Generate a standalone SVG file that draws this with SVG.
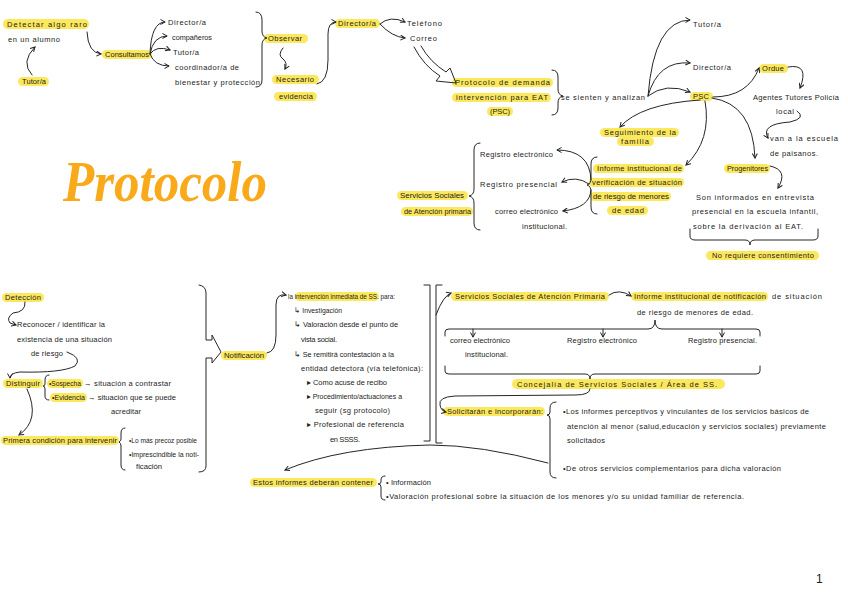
<svg xmlns="http://www.w3.org/2000/svg" width="848" height="599" viewBox="0 0 848 599">
<defs>
<marker id="ah" viewBox="0 0 6 6" refX="5" refY="3" markerWidth="6" markerHeight="6" orient="auto" markerUnits="userSpaceOnUse">
<path d="M0.5,0.5 L5,3 L0.5,5.5" fill="none" stroke="#222" stroke-width="1"/>
</marker>
<style>
text{font-family:"Liberation Sans",Arial,sans-serif;font-size:7.5px;fill:#1c1c1c}
.hl{fill:#fce85d}
.c{fill:none;stroke:#262626;stroke-width:1;stroke-linecap:round;stroke-linejoin:round}
.a{marker-end:url(#ah)}
.title{font-family:"Liberation Serif",serif;font-style:italic;font-weight:bold;font-size:56px;fill:#f9aa1a}
</style>
</defs>
<rect width="848" height="599" fill="#fff"/>

<g id="title"><text class="title" x="63" y="201" textLength="204" lengthAdjust="spacingAndGlyphs">Protocolo</text></g>

<!-- top-left -->
<g id="n-detectar"><rect class="hl" x="3" y="19" width="86" height="10" rx="5"/><text x="7" y="27" textLength="80" lengthAdjust="spacing">Detectar algo raro</text><text x="8" y="42" textLength="52" lengthAdjust="spacing">en un alumno</text></g>
<g id="n-tutor1"><rect class="hl" x="18" y="77" width="31" height="9" rx="4.5"/><text x="22" y="84" textLength="24" lengthAdjust="spacing">Tutor/a</text></g>
<g id="n-consultamos"><rect class="hl" x="102" y="50" width="50" height="9" rx="4.5"/><text x="105" y="57" textLength="44" lengthAdjust="spacingAndGlyphs">Consultamos</text></g>
<g id="n-consult-list">
<text x="168" y="25" textLength="38" lengthAdjust="spacing">Director/a</text>
<text x="172" y="40" textLength="40" lengthAdjust="spacingAndGlyphs">compañeros</text>
<text x="173" y="55" textLength="26" lengthAdjust="spacing">Tutor/a</text>
<text x="175" y="70" textLength="64" lengthAdjust="spacing">coordinador/a de</text>
<text x="175" y="85" textLength="85" lengthAdjust="spacing">bienestar y protección</text>
</g>
<g id="n-observar"><rect class="hl" x="264" y="34" width="44" height="9" rx="4.5"/><text x="268" y="41" textLength="34" lengthAdjust="spacing">Observar</text></g>
<g id="n-necesario"><rect class="hl" x="272" y="75" width="47" height="9" rx="4.5"/><text x="276" y="82" textLength="38" lengthAdjust="spacing">Necesario</text><rect class="hl" x="274" y="92" width="43" height="9" rx="4.5"/><text x="279" y="99" textLength="34" lengthAdjust="spacing">evidencia</text></g>
<g id="n-director2"><rect class="hl" x="335" y="19" width="45" height="9" rx="4.5"/><text x="338" y="26" textLength="38" lengthAdjust="spacing">Director/a</text></g>
<g id="n-telefono"><text x="407" y="26" textLength="35" lengthAdjust="spacing">Teléfono</text></g>
<g id="n-correo"><text x="410" y="41" textLength="27" lengthAdjust="spacing">Correo</text></g>
<g id="n-protocolo"><rect class="hl" x="452" y="78" width="101" height="9" rx="4.5"/><text x="455" y="85" textLength="95" lengthAdjust="spacing">Protocolo de demanda</text><rect class="hl" x="452" y="93" width="99" height="9" rx="4.5"/><text x="456" y="100" textLength="92" lengthAdjust="spacing">intervención para EAT</text><rect class="hl" x="487" y="107" width="26" height="9" rx="4.5"/><text x="490" y="114" textLength="20" lengthAdjust="spacing">(PSC)</text></g>
<g id="n-sienten"><text x="561" y="100" textLength="84" lengthAdjust="spacing">se sienten y analizan</text></g>
<g id="n-tutor3"><text x="693" y="27" textLength="28" lengthAdjust="spacing">Tutor/a</text></g>
<g id="n-director3"><text x="693" y="70" textLength="38" lengthAdjust="spacing">Director/a</text></g>
<g id="n-psc"><rect class="hl" x="690" y="92" width="23" height="9" rx="4.5"/><text x="693" y="99" textLength="16" lengthAdjust="spacing">PSC</text></g>
<g id="n-ordue"><rect class="hl" x="759" y="64" width="29" height="9" rx="4.5"/><text x="762" y="71" textLength="22" lengthAdjust="spacing">Ordue</text></g>
<g id="n-agentes"><text x="753" y="100" textLength="86" lengthAdjust="spacing">Agentes Tutores Policía</text><text x="776" y="114" textLength="18" lengthAdjust="spacing">local</text></g>
<g id="n-van"><text x="770" y="141" textLength="68" lengthAdjust="spacing">van a la escuela</text><text x="770" y="156" textLength="48" lengthAdjust="spacing">de paisanos.</text></g>
<g id="n-seguimiento"><rect class="hl" x="600" y="128" width="79" height="9" rx="4.5"/><text x="604" y="135" textLength="72" lengthAdjust="spacing">Seguimiento de la</text><rect class="hl" x="617" y="137" width="37" height="9" rx="4.5"/><text x="621" y="144" textLength="28" lengthAdjust="spacing">familia</text></g>
<g id="n-registros1">
<text x="480" y="157" textLength="73" lengthAdjust="spacing">Registro electrónico</text>
<text x="480" y="187" textLength="77" lengthAdjust="spacing">Registro presencial</text>
<text x="495" y="214" textLength="63" lengthAdjust="spacing">correo electrónico</text>
<text x="522" y="229" textLength="45" lengthAdjust="spacing">institucional.</text>
</g>
<g id="n-ssap1"><rect class="hl" x="397" y="191" width="71" height="9" rx="4.5"/><text x="400" y="198" textLength="64" lengthAdjust="spacingAndGlyphs">Servicios Sociales</text><rect class="hl" x="401" y="207" width="72" height="9" rx="4.5"/><text x="404" y="214" textLength="67" lengthAdjust="spacingAndGlyphs">de Atención primaria</text></g>
<g id="n-informe1">
<rect class="hl" x="593" y="164" width="91" height="9" rx="4.5"/><text x="597" y="171" textLength="85" lengthAdjust="spacing">Informe institucional de</text>
<rect class="hl" x="589" y="178" width="95" height="9" rx="4.5"/><text x="592" y="185" textLength="90" lengthAdjust="spacing">verificación de situación</text>
<rect class="hl" x="590" y="192" width="81" height="9" rx="4.5"/><text x="593" y="199" textLength="76" lengthAdjust="spacingAndGlyphs">de riesgo de menores</text>
<rect class="hl" x="607" y="206" width="41" height="9" rx="4.5"/><text x="612" y="213" textLength="32" lengthAdjust="spacing">de edad</text>
</g>
<g id="n-progenitores"><rect class="hl" x="724" y="164" width="46" height="9" rx="4.5"/><text x="727" y="171" textLength="41" lengthAdjust="spacingAndGlyphs">Progenitores</text></g>
<g id="n-informados">
<text x="696" y="200" textLength="118" lengthAdjust="spacing">Son informados en entrevista</text>
<text x="692" y="214" textLength="126" lengthAdjust="spacing">presencial en la escuela infantil,</text>
<text x="693" y="229" textLength="110" lengthAdjust="spacing">sobre la derivación al EAT.</text>
</g>
<g id="n-consentimiento"><rect class="hl" x="706" y="251" width="113" height="9" rx="4.5"/><text x="712" y="258" textLength="102" lengthAdjust="spacing">No requiere consentimiento</text></g>

<!-- bottom-left -->
<g id="n-deteccion"><rect class="hl" x="2" y="293" width="42" height="9" rx="4.5"/><text x="5" y="300" textLength="36" lengthAdjust="spacing">Detección</text></g>
<g id="n-reconocer">
<text x="17" y="327" textLength="88" lengthAdjust="spacing">Reconocer / identificar la</text>
<text x="17" y="342" textLength="95" lengthAdjust="spacing">existencia de una situación</text>
<text x="31" y="356" textLength="32" lengthAdjust="spacing">de riesgo</text>
</g>
<g id="n-distinguir"><rect class="hl" x="3" y="379" width="40" height="9" rx="4.5"/><text x="6" y="386" textLength="34" lengthAdjust="spacing">Distinguir</text></g>
<g id="n-sospecha">
<rect class="hl" x="47" y="379" width="36" height="9" rx="4.5"/><text x="49" y="386" textLength="32" lengthAdjust="spacingAndGlyphs">•Sospecha</text>
<text x="84" y="386" textLength="87" lengthAdjust="spacing">→ situación a contrastar</text>
<rect class="hl" x="50" y="393" width="37" height="9" rx="4.5"/><text x="52" y="400" textLength="33" lengthAdjust="spacingAndGlyphs">•Evidencia</text>
<text x="88" y="400" textLength="88" lengthAdjust="spacing">→ situación que se puede</text>
<text x="111" y="414" textLength="30" lengthAdjust="spacing">acreditar</text>
</g>
<g id="n-primera"><rect class="hl" x="1" y="436" width="118" height="9" rx="4.5"/><text x="3" y="443" textLength="114" lengthAdjust="spacing">Primera condición para intervenir</text></g>
<g id="n-precoz">
<text x="129" y="443" textLength="68" lengthAdjust="spacingAndGlyphs">•Lo más precoz posible</text>
<text x="129" y="457" textLength="70" lengthAdjust="spacingAndGlyphs">•Imprescindible la noti-</text>
<text x="136" y="469" textLength="26" lengthAdjust="spacingAndGlyphs">ficación</text>
</g>
<g id="n-notificacion"><rect class="hl" x="221" y="351" width="46" height="9" rx="4.5"/><text x="224" y="358" textLength="40" lengthAdjust="spacingAndGlyphs">Notificación</text></g>
<g id="n-intervencion">
<rect class="hl" x="295" y="292" width="84" height="9" rx="4.5"/>
<text x="288" y="299" textLength="107" lengthAdjust="spacingAndGlyphs">la intervención inmediata de SS. para:</text>
<text x="294" y="313" textLength="48" lengthAdjust="spacingAndGlyphs">↳ Investigación</text>
<text x="294" y="327" textLength="104" lengthAdjust="spacingAndGlyphs">↳ Valoración desde el punto de</text>
<text x="301" y="342" textLength="36" lengthAdjust="spacing">vista social.</text>
<text x="294" y="357" textLength="100" lengthAdjust="spacingAndGlyphs">↳ Se remitirá contestación a la</text>
<text x="301" y="371" textLength="122" lengthAdjust="spacing">entidad detectora (vía telefónica):</text>
<text x="307" y="385" textLength="80" lengthAdjust="spacing">▸ Como acuse de recibo</text>
<text x="307" y="399" textLength="95" lengthAdjust="spacingAndGlyphs">▸ Procedimiento/actuaciones a</text>
<text x="315" y="413" textLength="75" lengthAdjust="spacing">seguir (sg protocolo)</text>
<text x="307" y="427" textLength="97" lengthAdjust="spacing">▸ Profesional de referencia</text>
<text x="330" y="442" textLength="30" lengthAdjust="spacing">en SSSS.</text>
</g>

<!-- bottom-right -->
<g id="n-ssap2"><rect class="hl" x="451" y="292" width="158" height="9" rx="4.5"/><text x="455" y="299" textLength="150" lengthAdjust="spacing">Servicios Sociales de Atención Primaria</text></g>
<g id="n-informe2"><rect class="hl" x="631" y="292" width="137" height="9" rx="4.5"/><text x="634" y="299" textLength="132" lengthAdjust="spacing">Informe institucional de notificación</text><text x="772" y="299" textLength="50" lengthAdjust="spacing">de situación</text><text x="637" y="315" textLength="116" lengthAdjust="spacing">de riesgo de menores de edad.</text></g>
<g id="n-correo2"><text x="450" y="343" textLength="60" lengthAdjust="spacing">correo electrónico</text><text x="465" y="357" textLength="43" lengthAdjust="spacing">institucional.</text></g>
<g id="n-regelec2"><text x="567" y="343" textLength="70" lengthAdjust="spacing">Registro electrónico</text></g>
<g id="n-regpres2"><text x="688" y="343" textLength="69" lengthAdjust="spacing">Registro presencial.</text></g>
<g id="n-concejalia"><rect class="hl" x="512" y="379" width="213" height="10" rx="5"/><text x="517" y="387" textLength="200" lengthAdjust="spacing">Concejalía de Servicios Sociales / Área de SS.</text></g>
<g id="n-solicitaran"><rect class="hl" x="443" y="407" width="102" height="9" rx="4.5"/><text x="447" y="414" textLength="96" lengthAdjust="spacing">Solicitarán e incorporarán:</text></g>
<g id="n-informes-list">
<text x="563" y="414" textLength="246" lengthAdjust="spacing">•Los informes perceptivos y vinculantes de los servicios básicos de</text>
<text x="567" y="429" textLength="259" lengthAdjust="spacing">atención al menor (salud,educación y servicios sociales) previamente</text>
<text x="567" y="443" textLength="38" lengthAdjust="spacing">solicitados</text>
<text x="563" y="471" textLength="218" lengthAdjust="spacing">•De otros servicios complementarios para dicha valoración</text>
</g>
<g id="n-estos"><rect class="hl" x="250" y="478" width="127" height="9" rx="4.5"/><text x="253" y="485" textLength="120" lengthAdjust="spacing">Estos informes deberán contener</text></g>
<g id="n-contener-list">
<text x="386" y="485" textLength="45" lengthAdjust="spacing">• Información</text>
<text x="386" y="499" textLength="358" lengthAdjust="spacing">•Valoración profesional sobre la situación de los menores y/o su unidad familiar de referencia.</text>
</g>
<g id="pagenum"><text x="816" y="583" style="font-size:12px">1</text></g>

<g id="connectors">
<path class="c a" d="M32,75 Q20,62 35,47"/>
<path class="c a" d="M87,32 Q88,53 101,54"/>
<path class="c a" d="M150,54 Q151,22 165,22"/>
<path class="c a" d="M150,54 Q153,36 167,36"/>
<path class="c a" d="M150,54 Q156,45 170,50"/>
<path class="c a" d="M150,54 Q154,66 169,66"/>
<path class="c" d="M256,12 Q262,12 262,20 L262,31 Q262,37 267,38 Q262,39 262,45 L262,80 Q262,87 256,87"/>
<path class="c a" d="M283,48 Q277,55 283,59 Q288,63 285,69"/>
<path class="c a" d="M317,84 Q328,82 328,60 L328,34 Q328,22 336,22"/>
<path class="c a" d="M380,24 Q390,15 405,22"/>
<path class="c a" d="M380,24 Q392,37 405,38"/>
<path class="c" d="M414,47 Q424,66 440,76 L436,81 L456,83 L450,68 L446,72 Q430,62 421,46"/>
<path class="c" d="M552,70 Q558,70 558,77 L558,89 Q558,95 563,96 Q558,97 558,103 L558,108 Q558,115 552,115"/>
<path class="c a" d="M648,96 Q654,20 690,20"/>
<path class="c a" d="M648,96 Q658,60 690,63"/>
<path class="c a" d="M648,96 Q666,82 690,92"/>
<path class="c a" d="M713,97 Q748,97 759,68"/>
<path class="c a" d="M788,67 Q810,63 800,88"/>
<path class="c a" d="M797,111 Q807,118 790,122 Q760,124 768,138"/>
<path class="c a" d="M700,100 Q640,104 620,127"/>
<path class="c a" d="M705,101 Q712,140 686,165"/>
<path class="c a" d="M712,98 Q753,104 755,158"/>
<path class="c a" d="M770,166 Q789,170 778,188"/>
<path class="c" d="M480,143 Q474,143 474,150 L474,189 Q474,195 469,196 Q474,197 474,203 L474,223 Q474,230 480,230"/>
<path class="c" d="M597,157 Q591,157 591,164 L591,178 Q591,184 587,185 Q591,186 591,192 L591,207 Q591,214 597,214"/>
<path class="c a" d="M591,180 Q590,150 557,150"/>
<path class="c a" d="M589,184 Q576,175 562,182"/>
<path class="c a" d="M591,190 Q590,208 563,211"/>
<path class="c" d="M690,229 L690,236 Q690,240 695,240 L745,240 Q750,240 750,245 Q750,240 755,240 L813,240 Q818,240 818,236 L818,229"/>
<path class="c a" d="M25,302 Q26,312 13,313 Q6,318 10,323 L16,325"/>
<path class="c a" d="M67,352 Q83,358 75,366 Q62,373 20,372 Q10,373 10,378"/>
<path class="c" d="M49,375 Q45,375 45,380 L45,384 Q45,386 43,386 Q45,386 45,389 L45,396 Q45,400 49,400"/>
<path class="c a" d="M27,389 Q41,420 19,435"/>
<path class="c" d="M125,428 Q121,428 121,433 L121,439 Q121,441 119,442 Q121,443 121,446 L121,465 Q121,470 125,470"/>
<path class="c" d="M199,285 Q206,286 206,293 L206,340 L212,340 L212,335 L221,352 L212,363 L212,358 L206,358 L206,466 Q206,472 199,472"/>
<path class="c a" d="M267,353 Q276,352 276,335 L276,305 Q276,293 286,295"/>
<path class="c" d="M424,285 L430,285 L430,441 L424,441"/>
<path class="c" d="M442,285 L436,285 L436,443 L442,443"/>
<path class="c a" d="M436,315 Q443,296 451,293"/>
<path class="c a" d="M609,295 Q619,288 631,296"/>
<path class="c" d="M445,336 L445,332 Q445,329 449,329 L648,329 Q655,329 655,320 Q655,329 662,329 L756,329 Q760,329 760,332 L760,336"/>
<path class="c a" d="M473,329 L473,337"/>
<path class="c a" d="M603,329 L603,337"/>
<path class="c a" d="M722,329 L722,337"/>
<path class="c" d="M445,366 L445,371 Q445,374 449,374 L585,374 Q590,374 590,379 Q590,374 595,374 L756,374 Q760,374 760,371 L760,366"/>
<path class="c a" d="M590,389 Q590,395 575,395 L455,396 Q438,397 440,405 Q441,411 446,412"/>
<path class="c" d="M556,402 Q550,402 550,408 L550,412 Q550,415 547,415 Q550,415 550,419 L550,472 Q550,478 556,478"/>
<path class="c a" d="M548,463 Q480,445 430,445 Q340,447 285,470"/>
<path class="c" d="M385,476 Q381,476 381,480 L381,482 Q381,484 378,484 Q381,484 381,487 L381,496 Q381,500 385,500"/>
</g>
</svg>
